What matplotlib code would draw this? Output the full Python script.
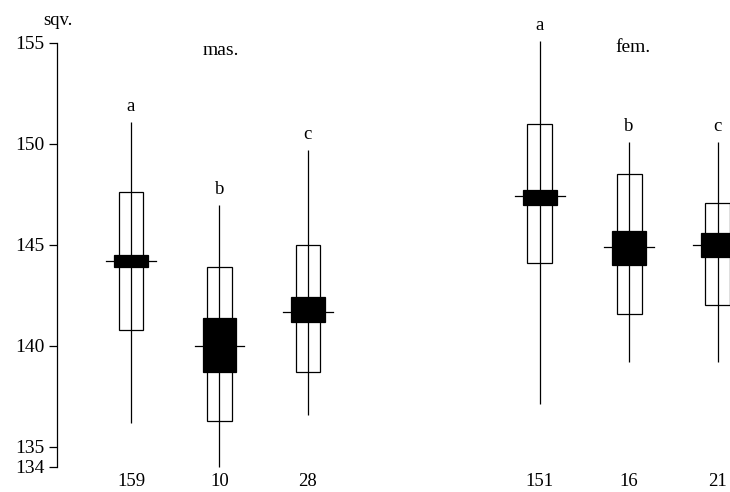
import matplotlib
matplotlib.use("Agg")
import matplotlib.pyplot as plt
from matplotlib.patches import Rectangle

# ---- data ----
counts = ["159", "10", "28", "151", "16", "21"]
letters = ["a", "b", "c", "a", "b", "c"]
means = [144.2, 140.0, 141.7, 147.4, 144.9, 145.0]
range_low = [136.2, 134.0, 136.6, 137.1, 139.2, 139.2]
range_high = [151.1, 147.0, 149.7, 155.1, 150.1, 150.1]
sd_low = [140.8, 136.3, 138.7, 144.1, 141.6, 142.0]
sd_high = [147.6, 143.9, 145.0, 151.0, 148.5, 147.1]
ci_low = [143.9, 138.7, 141.2, 147.0, 144.0, 144.4]
ci_high = [144.5, 141.4, 142.4, 147.7, 145.7, 145.6]
group_titles = ["mas.", "fem."]
yticks = [134, 135, 140, 145, 150, 155]

# ---- layout ----
positions = [0, 1, 2, 4.62, 5.63, 6.63]
title_x = [1.02, 5.67]
title_y = [154.4, 154.55]
open_w = 0.28
fill_w = 0.38
mean_w = 0.56
lw = 0.9

plt.rcParams['font.family'] = ['Liberation Serif', 'DejaVu Serif']

fig = plt.figure(figsize=(7.3, 4.92), dpi=100)
ax = fig.add_axes([57/730, 1 - 467/492, 1 - 57/730, (467 - 43)/492])
ax.set_ylim(134, 155)
ax.set_xlim(-0.836, 6.77)

for i, x in enumerate(positions):
    ax.plot([x, x], [range_low[i], range_high[i]], color='black', lw=lw, zorder=3,
            solid_capstyle='butt', clip_on=False)
    ax.add_patch(Rectangle((x - open_w/2, sd_low[i]), open_w, sd_high[i] - sd_low[i],
                           facecolor='none', edgecolor='black', lw=lw, zorder=2))
    ax.add_patch(Rectangle((x - fill_w/2, ci_low[i]), fill_w, ci_high[i] - ci_low[i],
                           facecolor='black', edgecolor='black', lw=lw, zorder=4))
    ax.plot([x - mean_w/2, x + mean_w/2], [means[i], means[i]], color='black', lw=lw, zorder=4)
    ax.annotate(letters[i], (x, range_high[i]), xytext=(0, 5), textcoords='offset points',
                ha='center', va='bottom', fontsize=13.5, annotation_clip=False)

for t, tx, ty in zip(group_titles, title_x, title_y):
    ax.text(tx, ty, t, ha='center', va='baseline', fontsize=14)

ax.set_yticks(yticks)
ax.set_yticklabels([str(v) for v in yticks], fontsize=14)
ax.tick_params(axis='y', direction='out', length=6, width=0.9, pad=3)
ax.set_xticks(positions)
ax.set_xticklabels(counts, fontsize=13.5)
ax.tick_params(axis='x', length=0, pad=4)

for s in ['top', 'right', 'bottom']:
    ax.spines[s].set_visible(False)
ax.spines['left'].set_linewidth(0.9)

ax.text(-0.82, 156.1, "sqv.", ha='center', va='center', fontsize=13.5, clip_on=False)

fig.savefig("out.png", dpi=100)
